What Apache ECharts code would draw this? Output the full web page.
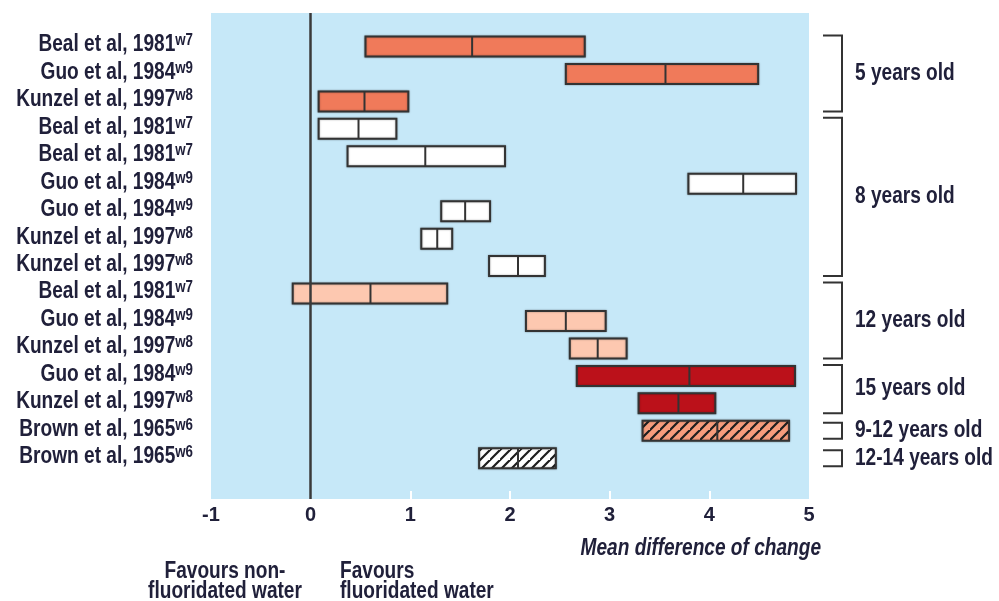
<!DOCTYPE html>
<html><head><meta charset="utf-8">
<script src="https://cdn.jsdelivr.net/npm/echarts@6/dist/echarts.min.js"></script>
<style>html,body{margin:0;padding:0;background:#fff}#c{width:999px;height:601px}</style>
</head><body><div id="c"></div>
<script>
const studies = ['Beal et al, 1981','Guo et al, 1984','Kunzel et al, 1997','Beal et al, 1981','Beal et al, 1981','Guo et al, 1984','Guo et al, 1984','Kunzel et al, 1997','Kunzel et al, 1997','Beal et al, 1981','Guo et al, 1984','Kunzel et al, 1997','Guo et al, 1984','Kunzel et al, 1997','Brown et al, 1965','Brown et al, 1965'];
const refs = ['w7','w9','w8','w7','w7','w9','w9','w8','w8','w7','w9','w8','w9','w8','w6','w6'];
const lowValues    = [0.55, 2.56, 0.08, 0.08, 0.37, 3.79, 1.31, 1.11, 1.79, -0.18, 2.16, 2.60, 2.67, 3.29, 3.33, 1.69];
const medianValues = [1.62, 3.56, 0.54, 0.48, 1.15, 4.34, 1.55, 1.27, 2.08, 0.60, 2.56, 2.88, 3.80, 3.69, 4.08, 2.08];
const highValues   = [2.75, 4.49, 0.98, 0.86, 1.95, 4.87, 1.80, 1.42, 2.35, 1.37, 2.96, 3.17, 4.86, 4.06, 4.80, 2.46];
const barKinds = ['orange','orange','orange','white','white','white','white','white','white','salmon','salmon','salmon','red','red','hatchOrange','hatchWhite'];
const groupLabels = ['5 years old','8 years old','12 years old','15 years old','9-12 years old','12-14 years old'];
const groupStart = [1, 4, 10, 13, 15, 16];
const groupEnd   = [3, 9, 12, 14, 15, 16];
const xTickLabels = [-1, 0, 1, 2, 3, 4, 5];
const rows = studies.map((s, i) => i + 1);

const FONT = "'Liberation Sans',Arial,sans-serif";
const TXT = '#20203a';
const SX = 0.83; // horizontal squeeze to imitate the condensed face

function hatch(bg) {
  const p = 10;
  const c = document.createElement('canvas');
  c.width = p; c.height = p;
  const g = c.getContext('2d');
  g.fillStyle = bg; g.fillRect(0, 0, p, p);
  g.strokeStyle = '#1e1e1e'; g.lineWidth = 2.2;
  g.beginPath();
  g.moveTo(-2, p + 2); g.lineTo(p + 2, -2);
  g.moveTo(-2 - p, p + 2); g.lineTo(2, -2);
  g.moveTo(p - 2, 2 * p + 2); g.lineTo(2 * p + 2, p - 2);
  g.stroke();
  return { image: c, repeat: 'repeat' };
}
const fills = {
  orange: '#f07a5a',
  white: '#ffffff',
  salmon: '#fdc8b0',
  red: '#bb111a',
  hatchOrange: hatch('#f59c7c'),
  hatchWhite: hatch('#ffffff')
};

const chart = echarts.init(document.getElementById('c'), null, { renderer: 'canvas' });
const barData = rows.map((r, i) => [lowValues[i], medianValues[i], highValues[i], r]);

chart.setOption({
  animation: false,
  grid: { left: 211, right: 190, top: 13, bottom: 102, show: true, backgroundColor: '#c6e8f8', borderWidth: 0,
          containLabel: false, outerBoundsMode: 'none' },
  xAxis: {
    type: 'value', min: -1, max: 5, interval: 1,
    axisLine: { show: false, onZero: false },
    splitLine: { show: false },
    axisTick: { show: true, inside: true, length: 8, customValues: [1, 2, 3, 4], lineStyle: { color: '#ffffff', width: 2 } },
    axisLabel: {
      customValues: xTickLabels, margin: 6,
      fontFamily: FONT, fontSize: 20, fontWeight: 'bold', color: TXT
    }
  },
  yAxis: {
    type: 'value', inverse: true, min: -0.184, max: 17.52,
    axisLine: { show: false, onZero: false }, axisTick: { show: false }, splitLine: { show: false },
    axisLabel: { show: false }
  },
  series: [
    {
      type: 'custom', name: 'bars', clip: false,
      encode: { x: [0, 1, 2], y: 3 },
      data: barData,
      renderItem(params, api) {
        const i = params.dataIndex;
        const r = api.value(3);
        const p0 = api.coord([api.value(0), r]);
        const pm = api.coord([api.value(1), r]);
        const p1 = api.coord([api.value(2), r]);
        const h = 20;
        const y0 = p0[1] - h / 2 + 1;
        return {
          type: 'group',
          children: [
            { type: 'rect', shape: { x: p0[0], y: y0, width: p1[0] - p0[0], height: h },
              style: { fill: fills[barKinds[i]], stroke: '#333333', lineWidth: 2, shadowBlur: 2, shadowColor: 'rgba(0,0,0,0.35)' } },
            { type: 'line', shape: { x1: pm[0], y1: y0, x2: pm[0], y2: y0 + h },
              style: { stroke: '#333333', lineWidth: 2 } }
          ]
        };
      },
      markLine: {
        silent: true, symbol: 'none', label: { show: false },
        lineStyle: { color: '#3a3a3a', width: 2.5, type: 'solid' },
        data: [{ xAxis: 0 }]
      },
      z: 3
    },
    {
      type: 'custom', name: 'studyLabels', clip: false,
      data: rows.map(r => [-1, r]),
      renderItem(params, api) {
        const i = params.dataIndex;
        const p = api.coord([-1, rows[i]]);
        return {
          type: 'text', x: p[0] - 18, y: p[1] - 0.5, scaleX: SX,
          style: {
            text: `{a|${studies[i]}}{s|${refs[i]}}`, x: 0, y: 0,
            align: 'right', verticalAlign: 'middle',
            rich: {
              a: { font: `bold 23px ${FONT}`, fill: TXT, lineHeight: 24 },
              s: { font: `bold 16px ${FONT}`, fill: TXT, verticalAlign: 'top', lineHeight: 14 }
            }
          }
        };
      }
    },
    {
      type: 'custom', name: 'groups', clip: false,
      data: groupLabels.map((g, i) => [5, groupStart[i]]),
      renderItem(params, api) {
        const i = params.dataIndex;
        const single = groupStart[i] === groupEnd[i];
        const a = api.coord([5, groupStart[i]]);
        const b = api.coord([5, groupEnd[i]]);
        const top = a[1] - (single ? 7 : 10);
        const bot = b[1] + (single ? 9 : 11);
        const xr = a[0];
        const x1 = xr + 14, x2 = xr + 33;
        return {
          type: 'group',
          children: [
            { type: 'polyline', shape: { points: [[x1, top], [x2, top], [x2, bot], [x1, bot]] },
              style: { stroke: '#333333', lineWidth: 2, fill: null } },
            { type: 'text', x: xr + 46, y: (top + bot) / 2, scaleX: SX,
              style: { text: groupLabels[i], x: 0, y: 0,
                verticalAlign: 'middle', align: 'left',
                font: `bold 23px ${FONT}`, fill: TXT } }
          ]
        };
      }
    }
  ],
  graphic: [
    { type: 'text', x: 821, y: 549, scaleX: SX,
      style: { text: 'Mean difference of change', x: 0, y: 0, align: 'right', verticalAlign: 'middle',
        font: `italic bold 23px ${FONT}`, fill: TXT } },
    { type: 'text', x: 225, y: 582, scaleX: SX,
      style: { text: 'Favours non-\nfluoridated water', x: 0, y: 0, font: `bold 23px ${FONT}`, fill: TXT,
        align: 'center', verticalAlign: 'middle', lineHeight: 20 } },
    { type: 'text', x: 340, y: 582, scaleX: SX,
      style: { text: 'Favours\nfluoridated water', x: 0, y: 0, font: `bold 23px ${FONT}`, fill: TXT,
        align: 'left', verticalAlign: 'middle', lineHeight: 20 } }
  ]
});
</script></body></html>
